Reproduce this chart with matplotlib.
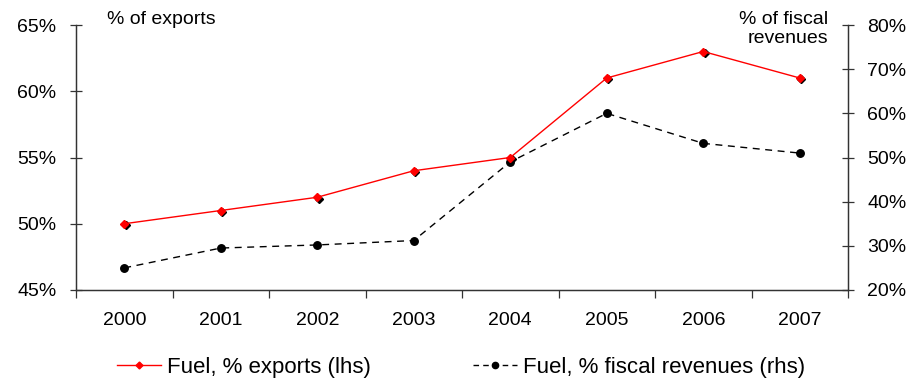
import matplotlib
matplotlib.use("Agg")
import matplotlib.pyplot as plt
import matplotlib.transforms as mtransforms
from matplotlib.ticker import FuncFormatter, FixedLocator
from matplotlib.lines import Line2D

plt.rcParams['font.family'] = ['Liberation Sans', 'DejaVu Sans']
plt.rcParams['font.size'] = 14

years = ['2000', '2001', '2002', '2003', '2004', '2005', '2006', '2007']
fuel_exports = [50, 51, 52, 54, 55, 61, 63, 61]            # % of exports (lhs)
fuel_fiscal = [25, 29.5, 30.2, 31.2, 49, 60, 53.2, 51]    # % of fiscal revenues (rhs)

fig = plt.figure(figsize=(9.22, 3.8), dpi=100)
W, H = 922, 380
ax = fig.add_axes([76 / W, 1 - 290 / H, 772 / W, 265 / H])
ax2 = ax.twinx()

x = list(range(len(years)))

# fiscal revenues series on the right axis
ax2.plot(x, fuel_fiscal, color='black', lw=1.0, ls=(0, (5, 4)),
         marker='o', ms=5.4, mfc='black', mec='black', zorder=3)
ax2.set_ylim(20, 80)

# exports series on the left axis, with a small shadow under each marker
shadow = mtransforms.offset_copy(ax.transData, fig=fig, x=1.3, y=-1.3, units='dots')
ax.plot(x, fuel_exports, ls='none', marker='D', ms=4.5, mfc='black', mec='black',
        transform=shadow, zorder=4)
ax.plot(x, fuel_exports, color='red', lw=1.0, marker='D', ms=4.5,
        mfc='red', mec='red', zorder=5)
ax.set_ylim(45, 65)
ax.set_zorder(ax2.get_zorder() + 1)
ax.patch.set_visible(False)

ax.set_xlim(-0.5, len(years) - 0.5)

pct = FuncFormatter(lambda v, p: f"{v:.0f}%")
ax.yaxis.set_major_locator(FixedLocator([45, 50, 55, 60, 65]))
ax.yaxis.set_major_formatter(pct)
ax2.yaxis.set_major_locator(FixedLocator([20, 30, 40, 50, 60, 70, 80]))
ax2.yaxis.set_major_formatter(pct)

ax.set_xticks(x)
ax.set_xticklabels(years)
ax.xaxis.set_minor_locator(FixedLocator([i + 0.5 for i in range(-1, len(years))]))
ax.tick_params(axis='x', which='major', length=0, pad=16, labelsize=14)
ax.tick_params(axis='x', which='minor', length=6, width=0.9, color='#333333', direction='out')
ax.tick_params(axis='y', length=8, width=0.9, color='#333333', direction='inout', pad=10, labelsize=14)
ax2.tick_params(axis='y', length=8, width=0.9, color='#333333', direction='inout', pad=10, labelsize=14)

for a in (ax, ax2):
    a.spines['top'].set_visible(False)
    for s in ('left', 'right', 'bottom'):
        a.spines[s].set_color('#333333')
        a.spines[s].set_linewidth(0.9)

fig.text(107 / W, 1 - 20 / H, '% of exports', ha='left', va='center', fontsize=14)
fig.text(828 / W, 1 - 29 / H, '% of fiscal\nrevenues', ha='right', va='center',
         fontsize=14, linespacing=1.1)

handles = [
    Line2D([], [], color='red', lw=1.0, marker='D', ms=3.5, mfc='red', mec='red'),
    Line2D([], [], color='black', lw=1.0, ls=(0, (4, 3)), marker='o', ms=4.5,
           mfc='black', mec='black'),
]
fig.legend(handles, ['Fuel, % exports (lhs)', 'Fuel, % fiscal revenues (rhs)'],
           loc='center', bbox_to_anchor=(0.5, 1 - 367 / H), ncol=2, frameon=False,
           handlelength=2.0, handletextpad=0.25, columnspacing=4.6, fontsize=16)

fig.savefig('out.png', dpi=100)
